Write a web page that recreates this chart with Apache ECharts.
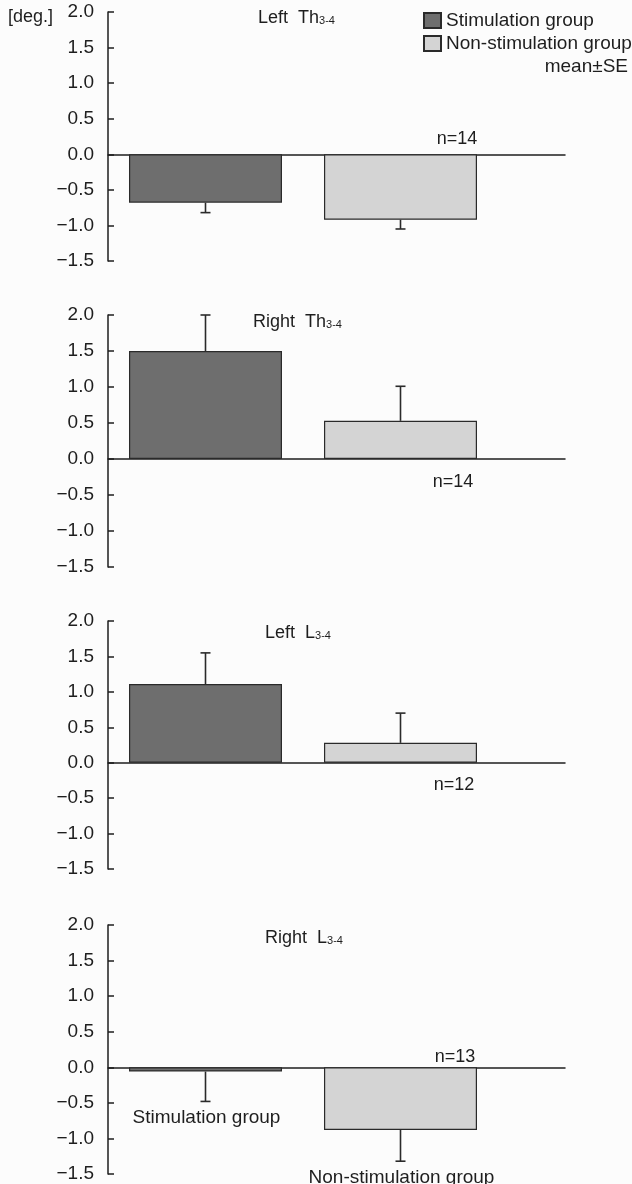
<!DOCTYPE html>
<html>
<head>
<meta charset="utf-8">
<script src="https://cdn.jsdelivr.net/npm/echarts@6/dist/echarts.min.js"></script>
<style>
html, body { margin: 0; padding: 0; background: #fcfcfc; }
#chart { width: 632px; height: 1184px; }
</style>
</head>
<body>
<div id="chart"></div>
<script>
const groups = ['Stimulation group', 'Non-stimulation group']
const panelSide = ['Left', 'Right', 'Left', 'Right']
const panelLevel = ['Th', 'Th', 'L', 'L']
const panelSeg = ['3-4', '3-4', '3-4', '3-4']
const stimMean = [-0.68, 1.5, 1.11, -0.06]
const stimSE = [0.14, 0.5, 0.44, 0.42]
const nonMean = [-0.92, 0.53, 0.28, -0.88]
const nonSE = [0.13, 0.48, 0.42, 0.44]
const nCount = [14, 14, 12, 13]
const yTicks = [-1.5, -1.0, -0.5, 0.0, 0.5, 1.0, 1.5, 2.0]
const slots = [0.5, 1.5] // bar centres on the hidden x scale

const FONT = '"Liberation Sans", Arial, Helvetica, sans-serif'
const INK = '#1e1e1e'
const DARK = '#6e6e6e'
const LIGHT = '#d4d4d4'

// panel layout
const gridTop = [12, 315, 621, 925]
const gridH = [249, 252, 248, 249]
const nPos = [[457, 139], [453, 482], [454, 785], [455, 1057]]
const titlePos = [[258, 20], [253, 324], [265, 635], [265, 940]]

const chart = echarts.init(document.getElementById('chart'))

const grids = [], xAxes = [], yAxes = [], series = [], graphics = []

gridTop.forEach((top, i) => {
  grids.push({ left: 108, width: 457, top, height: gridH[i] })
  xAxes.push({
    gridIndex: i, type: 'value', min: 0, max: 2.3436,
    axisLine: { show: true, onZero: true, lineStyle: { color: INK, width: 1.5 } },
    axisTick: { show: false }, axisLabel: { show: false }, splitLine: { show: false },
  })
  yAxes.push({
    gridIndex: i, type: 'value',
    min: yTicks[0], max: yTicks[yTicks.length - 1], interval: yTicks[1] - yTicks[0],
    axisLine: { show: true, onZero: false, lineStyle: { color: INK, width: 1.5 } },
    axisTick: { show: true, inside: true, length: 6, lineStyle: { color: INK, width: 1.5 } },
    axisLabel: {
      color: INK, fontSize: 19, fontFamily: FONT, margin: 14,
      formatter: (v) => (v < 0 ? '\u2212' : '') + Math.abs(v).toFixed(1),
    },
    splitLine: { show: false },
  })

  const barBase = {
    type: 'bar', xAxisIndex: i, yAxisIndex: i, barWidth: 153, barGap: '-100%',
    silent: true, animation: false,
  }
  series.push({
    ...barBase, name: groups[0], data: [[slots[0], stimMean[i]]],
    itemStyle: { color: DARK, borderColor: '#2a2a2a', borderWidth: 1.2 },
  })
  series.push({
    ...barBase, name: groups[1], data: [[slots[1], nonMean[i]]],
    itemStyle: { color: LIGHT, borderColor: '#2a2a2a', borderWidth: 1.2 },
  })

  const withNames = i === gridTop.length - 1
  series.push({
    type: 'custom', xAxisIndex: i, yAxisIndex: i, z: 5, silent: true, animation: false,
    data: [[slots[0], stimMean[i], stimSE[i]], [slots[1], nonMean[i], nonSE[i]]],
    renderItem(params, api) {
      const x = api.value(0), m = api.value(1), se = api.value(2)
      const end = m < 0 ? m - se : m + se
      const p0 = api.coord([x, m]), p1 = api.coord([x, end])
      const st = { stroke: '#2a2a2a', lineWidth: 1.6 }
      const children = [
        { type: 'line', shape: { x1: p0[0], y1: p0[1], x2: p1[0], y2: p1[1] }, style: st },
        { type: 'line', shape: { x1: p1[0] - 5, y1: p1[1], x2: p1[0] + 5, y2: p1[1] }, style: st },
      ]
      if (withNames) {
        children.push({
          type: 'text',
          style: {
            text: groups[params.dataIndex], x: p1[0] + 1, y: p1[1] + 7,
            align: 'center', verticalAlign: 'top', fill: INK, font: '19px ' + FONT,
          },
        })
      }
      return { type: 'group', children }
    },
  })

  graphics.push({
    type: 'text', left: titlePos[i][0], top: titlePos[i][1] - 11,
    style: {
      text: panelSide[i] + '  ' + panelLevel[i] + '{s|' + panelSeg[i] + '}',
      fill: INK, font: '18px ' + FONT,
      rich: { s: { fontSize: 11, fontFamily: FONT, fill: INK, verticalAlign: 'bottom', padding: [0, 0, 1, 0] } },
    },
  })
  graphics.push({
    type: 'text', x: nPos[i][0], y: nPos[i][1],
    style: { text: 'n=' + nCount[i], align: 'center', verticalAlign: 'middle', fill: INK, font: '18px ' + FONT },
  })
})

graphics.push({
  type: 'text', x: 8, y: 17,
  style: { text: '[deg.]', verticalAlign: 'middle', fill: INK, font: '18px ' + FONT },
})
graphics.push({
  type: 'text', x: 628, y: 67,
  style: { text: 'mean\u00b1SE', align: 'right', verticalAlign: 'middle', fill: INK, font: '19px ' + FONT },
})

chart.setOption({
  backgroundColor: '#fcfcfc',
  animation: false,
  legend: {
    data: groups, orient: 'vertical', left: 418, top: 6,
    itemWidth: 17, itemHeight: 15, itemGap: 4, icon: 'rect', selectedMode: false,
    textStyle: { color: INK, fontSize: 19, fontFamily: FONT },
  },
  grid: grids,
  xAxis: xAxes,
  yAxis: yAxes,
  series,
  graphic: graphics,
})
</script>
</body>
</html>
